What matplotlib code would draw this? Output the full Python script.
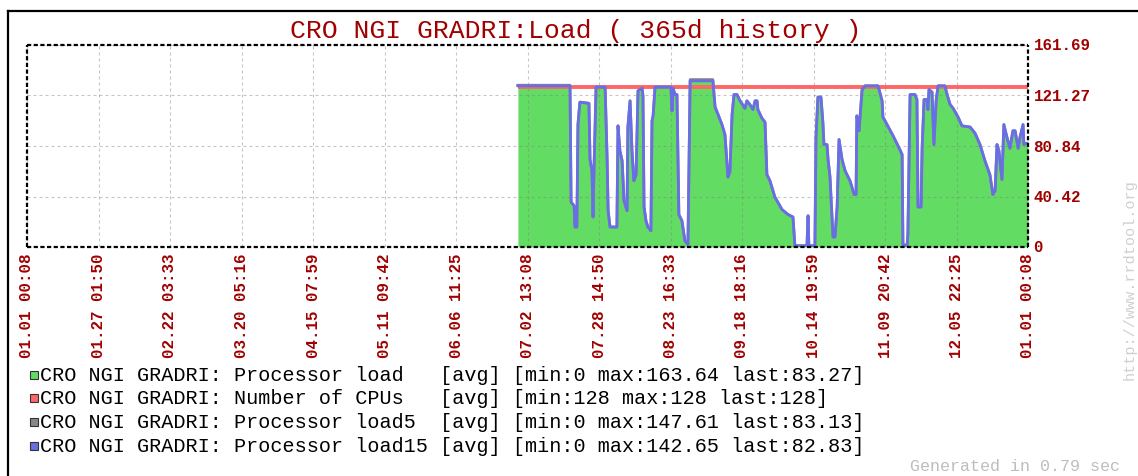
import matplotlib.pyplot as plt
from matplotlib.lines import Line2D
from matplotlib.patches import Rectangle

W, H = 1138, 477

title = "CRO NGI GRADRI:Load ( 365d history )"
x_labels = ["01.01 00:08", "01.27 01:50", "02.22 03:33", "03.20 05:16", "04.15 07:59",
            "05.11 09:42", "06.06 11:25", "07.02 13:08", "07.28 14:50", "08.23 16:33",
            "09.18 18:16", "10.14 19:59", "11.09 20:42", "12.05 22:25", "01.01 00:08"]
y_ticks = [0, 40.42, 80.84, 121.27, 161.69]
y_labels = ["0", "40.42", "80.84", "121.27", "161.69"]

# day of year for each sample
days = [179.0, 198.0, 198.4, 199.5, 199.8, 200.5, 200.9, 201.6, 204.9, 205.3,
        206.0, 206.4, 206.7, 207.5, 210.8, 211.1, 211.5, 211.9, 212.6, 215.1,
        215.5, 216.2, 217.0, 217.7, 218.8, 219.1, 219.9, 220.6, 221.3, 222.1,
        222.8, 224.3, 224.6, 225.0, 225.7, 226.4, 227.5, 227.9, 228.3, 229.0,
        234.8, 235.2, 235.6, 236.3, 237.0, 237.7, 238.8, 239.9, 241.0, 241.8,
        250.1, 250.9, 252.0, 253.4, 254.5, 255.6, 256.3, 257.1, 257.8, 258.9,
        260.0, 261.8, 262.5, 263.6, 264.7, 265.5, 266.2, 266.5, 268.0, 269.1,
        269.8, 270.9, 272.7, 275.3, 277.5, 279.3, 280.0, 284.4, 284.8, 285.1,
        287.3, 287.7, 288.4, 289.5, 290.2, 290.6, 291.7, 292.1, 292.8, 293.9,
        294.6, 295.4, 296.1, 297.2, 298.3, 300.1, 301.6, 302.3, 302.6, 303.4,
        304.5, 305.6, 310.3, 311.8, 312.1, 313.6, 315.8, 317.6, 319.1, 319.4,
        320.9, 321.2, 322.0, 323.8, 324.5, 324.9, 326.0, 326.4, 327.1, 328.2,
        328.5, 328.9, 330.0, 330.7, 331.5, 332.2, 334.7, 335.5, 336.6, 337.7,
        339.5, 340.9, 343.9, 345.7, 347.5, 349.3, 351.1, 352.2, 353.0, 353.7,
        354.4, 355.5, 356.2, 357.3, 358.4, 359.5, 360.3, 361.4, 362.1, 363.2,
        363.5, 364.3, 365.0]

load = [130, 130, 36, 33, 16, 16, 98, 116, 115, 70,
        61, 24, 58, 129, 129, 104, 73, 29, 16, 16,
        97, 77, 69, 37, 29, 96, 117, 77, 53, 58,
        125, 128, 121, 32, 21, 16, 13, 101, 105, 129,
        129, 109, 127, 122, 122, 26, 21, 5, 2, 135,
        135, 112, 106, 98, 90, 56, 60, 106, 122, 122,
        117, 111, 117, 114, 110, 117, 117, 110, 103, 100,
        58, 53, 40, 30, 26, 24, 1, 1, 25, 1,
        1, 88, 120, 120, 100, 82, 82, 70, 56, 8,
        8, 32, 86, 70, 61, 53, 42, 42, 105, 93,
        126, 130, 130, 117, 104, 98, 89, 81, 74, 2,
        1, 10, 122, 122, 118, 32, 32, 80, 118, 118,
        110, 126, 124, 82, 117, 130, 130, 122, 114, 111,
        104, 97, 96, 91, 82, 69, 58, 42, 45, 82,
        77, 54, 98, 88, 79, 93, 93, 79, 88, 98,
        82, 83, 83]

load5 = [129.5, 129.5, 36, 33, 16, 16, 98, 116, 115, 70,
         61, 24, 58, 128, 128, 104, 73, 29, 16, 16,
         97, 77, 69, 37, 29, 96, 117, 77, 53, 58,
         125, 127, 121, 32, 21, 16, 13, 101, 105, 128,
         128, 109, 127, 122, 122, 26, 21, 5, 2, 134,
         134, 112, 106, 98, 90, 56, 60, 106, 122, 122,
         117, 111, 117, 114, 110, 117, 117, 110, 103, 100,
         58, 53, 40, 30, 26, 24, 1, 1, 25, 1,
         1, 88, 120, 120, 100, 82, 82, 70, 56, 8,
         8, 32, 86, 70, 61, 53, 42, 42, 105, 93,
         126, 129, 129, 117, 104, 98, 89, 81, 74, 2,
         1, 10, 122, 122, 118, 32, 32, 80, 118, 118,
         110, 126, 124, 82, 117, 129, 129, 122, 114, 111,
         104, 97, 96, 91, 82, 69, 58, 42, 45, 82,
         77, 54, 98, 88, 79, 93, 93, 79, 88, 98,
         82, 83, 83]

load15 = [129, 129, 36, 33, 16, 16, 98, 116, 115, 70,
          61, 24, 58, 128, 128, 104, 73, 29, 16, 16,
          97, 77, 69, 37, 29, 96, 117, 77, 53, 58,
          125, 127, 121, 32, 21, 16, 13, 101, 105, 128,
          128, 109, 127, 122, 122, 26, 21, 5, 2, 133,
          133, 112, 106, 98, 90, 56, 60, 106, 122, 122,
          117, 111, 117, 114, 110, 117, 117, 110, 103, 100,
          58, 53, 40, 30, 26, 24, 1, 1, 25, 1,
          1, 88, 120, 120, 100, 82, 82, 70, 56, 8,
          8, 32, 86, 70, 61, 53, 42, 42, 105, 93,
          126, 129, 129, 117, 104, 98, 89, 81, 74, 2,
          1, 10, 122, 122, 118, 32, 32, 80, 118, 118,
          110, 126, 124, 82, 117, 129, 129, 122, 114, 111,
          104, 97, 96, 91, 82, 69, 58, 42, 45, 82,
          77, 54, 98, 88, 79, 93, 93, 79, 88, 98,
          82, 83, 83]

cpu_days = [179.0, 365.0]
cpus = [128, 128]

legend_rows = [
    ("#63dc63", "CRO NGI GRADRI: Processor load   [avg] [min:0 max:163.64 last:83.27]"),
    ("#ff6666", "CRO NGI GRADRI: Number of CPUs   [avg] [min:128 max:128 last:128]"),
    ("#888888", "CRO NGI GRADRI: Processor load5  [avg] [min:0 max:147.61 last:83.13]"),
    ("#6a6ee6", "CRO NGI GRADRI: Processor load15 [avg] [min:0 max:142.65 last:82.83]"),
]

dark_red = "#a00000"
mono = "Liberation Mono"

fig = plt.figure(figsize=(W / 100, H / 100), dpi=100)
fig.patch.set_facecolor("white")

# outer frame (top and left edges only)
fig.add_artist(Line2D([8 / W, 8 / W], [0, 1 - 12 / H], color="black", lw=1.6))
fig.add_artist(Line2D([8 / W, 1], [1 - 12 / H, 1 - 12 / H], color="black", lw=1.6))

ax = fig.add_axes([27 / W, (H - 248) / H, 1001 / W, 202 / H])
ax.set_xlim(0, 365)
ax.set_ylim(0, 161.69)

ax.fill_between(days, load, color="#63dc63", lw=0, zorder=1)
ax.plot(cpu_days, cpus, color="#ff6666", lw=2.8, solid_capstyle="butt", zorder=3)
ax.plot(days, load5, color="#888888", lw=2.0, zorder=4)
ax.plot(days, load15, color="#6a6ee6", lw=2.0, zorder=5)

ax.set_axisbelow(False)
ax.grid(True, color="#808080", alpha=0.45, linestyle=(0, (2.7, 2.7)), lw=0.8)

x_ticks = [365 / 14 * i for i in range(15)]
ax.set_xticks(x_ticks, labels=x_labels)
ax.set_yticks(y_ticks, labels=y_labels)
ax.yaxis.tick_right()
ax.tick_params(length=0, colors=dark_red)
ax.tick_params(axis="y", pad=4)
ax.tick_params(axis="x", pad=4)
for lbl in ax.get_yticklabels():
    lbl.set_fontfamily(mono)
    lbl.set_fontweight("bold")
    lbl.set_fontsize(11.4)
    lbl.set_verticalalignment("center")
for lbl in ax.get_xticklabels():
    lbl.set_fontfamily(mono)
    lbl.set_fontweight("bold")
    lbl.set_fontsize(11.4)
    lbl.set_rotation(90)

# dotted plot border
for s in ax.spines.values():
    s.set_visible(False)
for xs, ys in [([0, 1], [0, 0]), ([0, 1], [1, 1]), ([0, 0], [0, 1]), ([1, 1], [0, 1])]:
    ax.add_line(Line2D(xs, ys, transform=ax.transAxes, color="black", lw=1.6,
                       linestyle=(0, (1.9, 1.1)), dash_capstyle="butt",
                       clip_on=False, zorder=6))

fig.text(576 / W, 1 - 31 / H, title, color=dark_red, family=mono, fontsize=19,
         ha="center", va="center")

row_y = [376, 399, 423, 447]
for (color, text), y in zip(legend_rows, row_y):
    fig.add_artist(Rectangle((30 / W, 1 - (y + 4) / H), 8 / W, 8 / H,
                             facecolor=color, edgecolor="#333333", lw=0.8))
    fig.text(40 / W, 1 - y / H, text, color="black", family=mono, fontsize=14.5,
             ha="left", va="center")

fig.text(1120 / W, 1 - 467 / H, "Generated in 0.79 sec", color="#bdbdbd",
         family=mono, fontsize=12, ha="right", va="center")
fig.text(1130 / W, 1 - 280 / H, "http://www.rrdtool.org", color="#d0d0d0",
         family=mono, fontsize=11, rotation=90, ha="center", va="center")

fig.savefig("out.png", dpi=100)
